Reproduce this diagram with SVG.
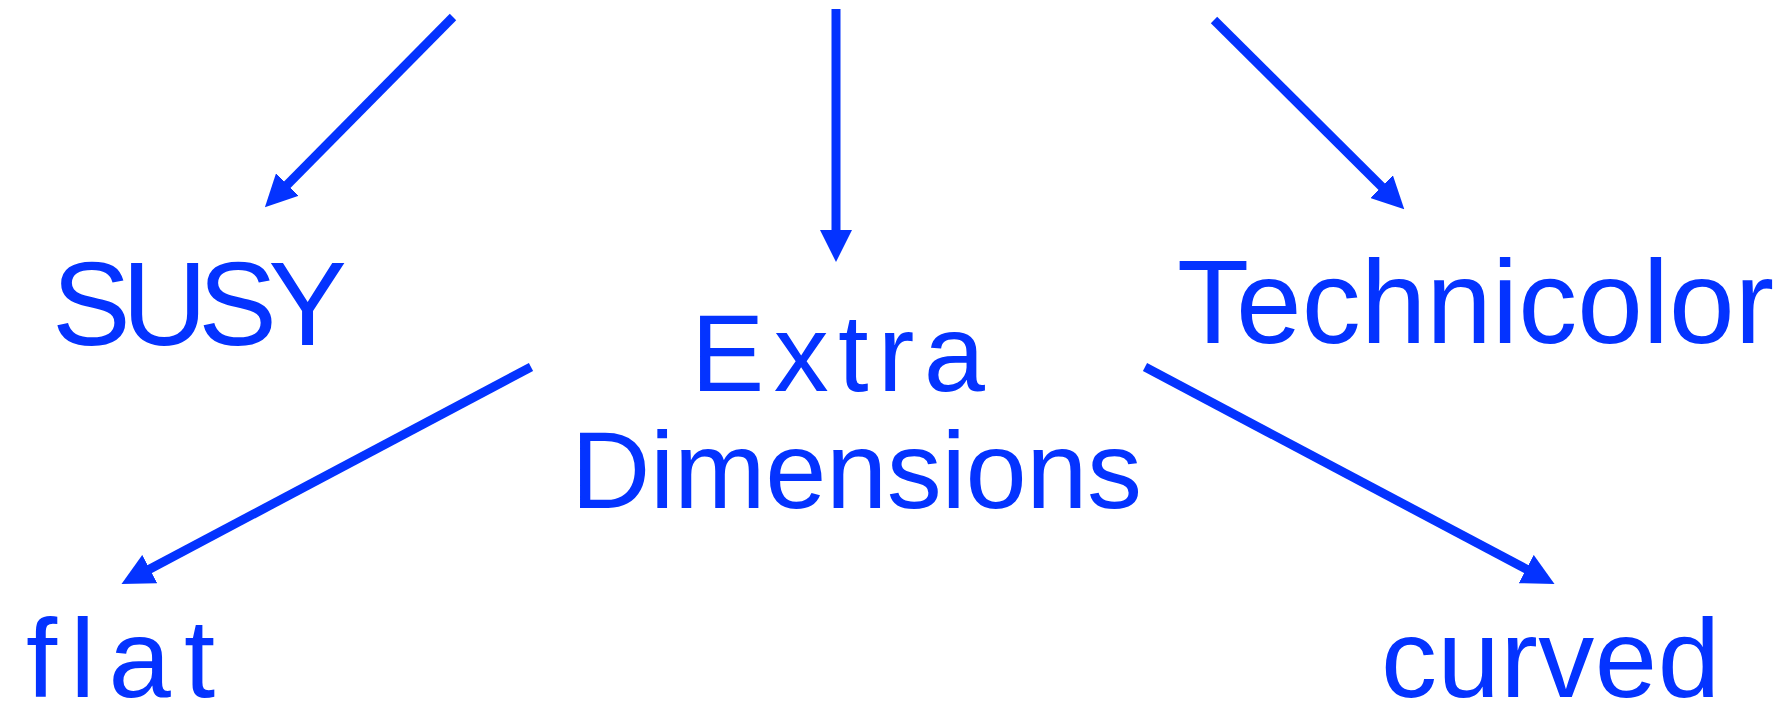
<svg xmlns="http://www.w3.org/2000/svg" width="1791" height="710" viewBox="0 0 1791 710">
<style>
.lbl{font-family:"Liberation Sans",Arial,sans-serif;font-size:118px;fill:#0433FF}
.mid{font-size:110px}
.low{font-size:112px}
.conn{stroke:#0433FF;stroke-width:9;fill:none;marker-end:url(#ah)}
</style>
<defs>
<marker id="ah" markerUnits="userSpaceOnUse" viewBox="-2 -16 32 32" refX="0" refY="0" markerWidth="32" markerHeight="32" orient="auto">
<path d="M-2,-16 L30,0 L-2,16 z" fill="#0433FF"/>
</marker>
</defs>
<rect width="1791" height="710" fill="#ffffff"/>
<g id="connectors">
<line class="conn" x1="453" y1="17" x2="286" y2="186"/>
<line class="conn" x1="836" y1="9" x2="836" y2="232"/>
<line class="conn" x1="1214" y1="20" x2="1383" y2="188"/>
<line class="conn" x1="531" y1="367" x2="148" y2="570"/>
<line class="conn" x1="1145" y1="367" x2="1528" y2="570"/>
</g>
<g id="susy"><text class="lbl" x="52" y="345" textLength="295">SUSY</text></g>
<g id="extra-dimensions">
<text class="lbl mid" x="691" y="391" textLength="294">Extra</text>
<text class="lbl mid" x="571" y="508" textLength="571">Dimensions</text>
</g>
<g id="technicolor"><text class="lbl" x="1177" y="343" textLength="597">Technicolor</text></g>
<g id="flat"><text class="lbl low" x="26" y="697" textLength="189">flat</text></g>
<g id="curved"><text class="lbl low" x="1381" y="697" textLength="339">curved</text></g>
</svg>
